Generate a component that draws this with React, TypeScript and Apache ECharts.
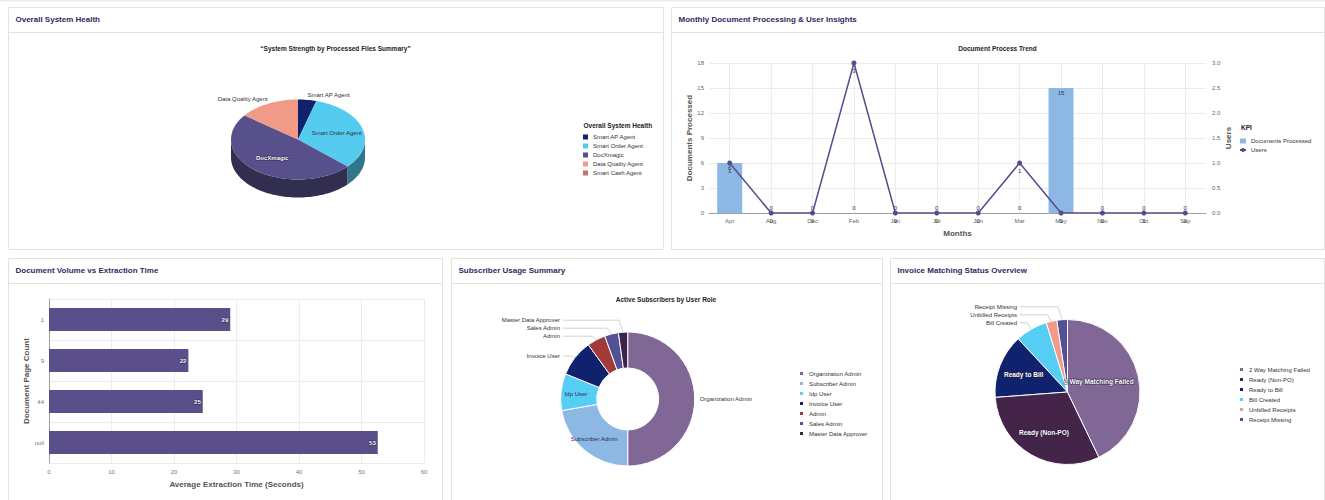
import React, { useEffect, useRef } from 'react';
import * as echarts from 'echarts';

// ---------------- Data ----------------
// Panel 1: Overall System Health (3D pie)
const healthNames = ['Smart AP Agent', 'Smart Order Agent', 'DocXmagic', 'Data Quality Agent', 'Smart Cash Agent'];
const healthValues = [3, 22, 33, 10, 0];

// Panel 2: Monthly Document Processing & User Insights
const months = ['Apr', 'Aug', 'Dec', 'Feb', 'Jan', 'Jul', 'Jun', 'Mar', 'May', 'Nov', 'Oct', 'Sep'];
const docsProcessed = [6, 0, 0, 0, 0, 0, 0, 0, 15, 0, 0, 0];
const usersCount = [1, 0, 0, 3, 0, 0, 0, 1, 0, 0, 0, 0];
const docsAxisMax = 18;
const docsAxisStep = 3;
const usersAxisMax = 3;
const usersAxisStep = 0.5;

// Panel 3: Document Volume vs Extraction Time
const pageCounts = ['1', '9', '44', 'null'];
const avgExtractionSeconds = [29, 22.3, 24.6, 52.6];
const extractionAxisMax = 60;
const extractionAxisStep = 10;

// Panel 4: Subscriber Usage Summary
const roleNames = ['Organization Admin', 'Subscriber Admin', 'Idp User', 'Invoice User', 'Admin', 'Sales Admin', 'Master Data Approver'];
const roleValues = [45, 20, 8, 8, 4, 3, 2];

// Panel 5: Invoice Matching Status Overview
const statusNames = ['2 Way Matching Failed', 'Ready (Non-PO)', 'Ready to Bill', 'Bill Created', 'Unbilled Receipts', 'Receipt Missing'];
const statusValues = [18, 13, 6, 3, 1, 1];

// ---------------- Styles / layout ----------------
const FONT = '"Liberation Sans", Arial, Helvetica, sans-serif';
const OUTLINE = 'rgba(35,25,55,0.75)';
const healthColors = ['#10226e', '#56cbf0', '#57508a', '#f19a8a', '#c27474'];
const roleColors = ['#806796', '#8db8e3', '#56cdf2', '#10226e', '#a33a3a', '#545096', '#3c2348'];
const statusColors = ['#806796', '#45244a', '#10226e', '#56cdf2', '#f19a8a', '#545096'];
const roleLabelModes = ['plain', 'inside', 'inside', 'line', 'line', 'line', 'line'];
const roleLineLengths = [0, 0, 0, 3, 12, 12, 12];
const statusLabelModes = ['inside', 'inside', 'inside', 'line', 'line', 'line'];
const statusLineLengths = [0, 0, 0, 13, 13, 13];

const ROLE_PIE = { center: [627.7, 399], r0: 31, r: 67, alignX: 560 };
const STATUS_PIE = { center: [1067.5, 392], r0: 0, r: 72.5, alignX: 1017 };

const panels = [
  { x: 8, y: 7, w: 655, h: 242, title: 'Overall System Health' },
  { x: 671, y: 7, w: 653, h: 242, title: 'Monthly Document Processing & User Insights' },
  { x: 8, y: 258, w: 434, h: 260, title: 'Document Volume vs Extraction Time' },
  { x: 451, y: 258, w: 431, h: 260, title: 'Subscriber Usage Summary' },
  { x: 890, y: 258, w: 434, h: 260, title: 'Invoice Matching Status Overview' },
];

const PIE3D = { cx: 298, cy: 139.5, rx: 67, ry: 40, depth: 18 };

const rad = (d: number) => (d * Math.PI) / 180;
const sum = (a: number[]) => a.reduce((s, v) => s + v, 0);

function shade(hex: string, f: number) {
  const n = parseInt(hex.slice(1), 16);
  const r = Math.round(((n >> 16) & 255) * f);
  const g = Math.round(((n >> 8) & 255) * f);
  const b = Math.round((n & 255) * f);
  return `rgb(${r},${g},${b})`;
}
function luminance(hex: string) {
  const n = parseInt(hex.slice(1), 16);
  return (0.299 * ((n >> 16) & 255) + 0.587 * ((n >> 8) & 255) + 0.114 * (n & 255)) / 255;
}

function render3DPie(params: any) {
  const i = params.dataIndex;
  const total = sum(healthValues);
  const v = healthValues[i];
  if (!v) return { type: 'group', children: [] };
  const before = sum(healthValues.slice(0, i));
  const a0 = 90 - (before / total) * 360;
  const a1 = a0 - (v / total) * 360;
  const { cx, cy, rx, ry, depth } = PIE3D;
  const color = healthColors[i];
  const pt = (t: number, dy = 0) => [cx + rx * Math.cos(rad(t)), cy - ry * Math.sin(rad(t)) + dy];
  const angles: number[] = [];
  const n = Math.max(4, Math.ceil((a0 - a1) / 2));
  for (let k = 0; k <= n; k++) angles.push(a0 - ((a0 - a1) * k) / n);
  for (let m = Math.ceil(a1 / 180); m * 180 < a0; m++) {
    const b = m * 180;
    if (b > a1 && b < a0) angles.push(b);
  }
  angles.sort((p, q) => q - p);
  const children: any[] = [];
  let run: number[] = [];
  const flush = () => {
    if (run.length > 1) {
      children.push({
        type: 'polygon',
        z2: 1,
        shape: { points: [...run.map((t) => pt(t)), ...run.slice().reverse().map((t) => pt(t, depth))] },
        style: { fill: shade(color, 0.58) },
      });
    }
    run = [];
  };
  for (const t of angles) {
    if (Math.sin(rad(t)) <= 1e-9) run.push(t);
    else flush();
  }
  flush();
  children.push({
    type: 'polygon',
    z2: 5,
    shape: { points: [[cx, cy], ...angles.map((t) => pt(t))] },
    style: { fill: color },
  });
  const mid = (a0 + a1) / 2;
  const c = Math.cos(rad(mid));
  const s = Math.sin(rad(mid));
  const share = v / total;
  let lx: number, ly: number, align: string, vAlign: string, fill: string, weight: string;
  let outline = false;
  if (share >= 0.25) {
    lx = cx + 0.6 * rx * c;
    ly = cy - 0.6 * ry * s;
    align = 'center';
    vAlign = 'middle';
    const dark = luminance(color) < 0.5;
    fill = dark ? '#ffffff' : '#333333';
    weight = dark ? 'bold' : 'normal';
    outline = dark;
  } else {
    lx = cx + (rx + 1) * c;
    ly = cy - (ry + 2) * s;
    align = c >= 0 ? 'left' : 'right';
    vAlign = 'bottom';
    fill = '#333333';
    weight = 'normal';
  }
  children.push({
    type: 'text',
    z2: 10,
    x: lx,
    y: ly,
    style: {
      text: healthNames[i],
      fill,
      fontSize: 6,
      fontWeight: weight,
      fontFamily: FONT,
      align,
      textAlign: align,
      verticalAlign: vAlign,
      textVerticalAlign: vAlign,
      stroke: outline ? OUTLINE : undefined,
      lineWidth: outline ? 1 : 0,
    },
  });
  return { type: 'group', children };
}

// Label placement for the flat pies: outside labels are right-aligned on one column with
// elbow connectors; inside labels sit at a fraction of the radius, kept within the slice's chord.
// `order` maps the series' data index back to the index in the value arrays.
function makeLabelLayout(values: number[], modes: string[], pie: any, insideFrac: number | null, order: number[]) {
  const total = sum(values);
  const [cx, cy] = pie.center;
  const r = pie.r;
  return (params: any) => {
    const i = order[params.dataIndex];
    const before = sum(values.slice(0, i));
    const mid = 90 - ((before + values[i] / 2) / total) * 360;
    const c = Math.cos(rad(mid));
    const s = Math.sin(rad(mid));
    const lr = params.labelRect;
    if (modes[i] === 'line') {
      const y = lr.y + lr.height / 2;
      const ex = cx + r * c;
      const ey = cy - r * s;
      return {
        x: pie.alignX,
        y,
        align: 'right',
        verticalAlign: 'middle',
        labelLinePoints: [[ex, ey], [ex - 4, y], [pie.alignX + 3, y]],
      };
    }
    if (modes[i] === 'inside' && insideFrac != null) {
      let x = cx + insideFrac * r * c;
      const y = cy - insideFrac * r * s;
      const half = Math.sqrt(Math.max(0, r * r - (y - cy) * (y - cy))) - 5;
      const hw = lr.width / 2;
      x = Math.min(x, cx + half - hw);
      x = Math.max(x, cx - half + hw);
      return { x, y, align: 'center', verticalAlign: 'middle' };
    }
    return {};
  };
}

function buildOption() {
  const graphics: any[] = [];
  graphics.push({ type: 'rect', silent: true, z: -5, shape: { x: 0, y: 0, width: 1325, height: 1.5 }, style: { fill: '#ebebeb' } });
  panels.forEach((p) => {
    graphics.push({
      type: 'rect', silent: true, z: -5,
      shape: { x: p.x + 0.5, y: p.y + 0.5, width: p.w, height: p.h },
      style: { fill: '#ffffff', stroke: '#e2e2e2', lineWidth: 1 },
    });
    graphics.push({
      type: 'line', silent: true, z: -4,
      shape: { x1: p.x + 0.5, y1: p.y + 25.5, x2: p.x + p.w + 0.5, y2: p.y + 25.5 },
      style: { stroke: '#e2e2e2', lineWidth: 1 },
    });
    graphics.push({
      type: 'text', silent: true, z: 10, x: p.x + 7.5, y: p.y + 12.5,
      style: {
        text: p.title, fill: '#2e2b5f', fontSize: 8, fontWeight: 'bold', fontFamily: FONT,
        align: 'left', textAlign: 'left', verticalAlign: 'middle', textVerticalAlign: 'middle',
      },
    });
  });
  const centeredText = (text: string, x: number, y: number, size: number, align = 'center') => ({
    type: 'text', silent: true, z: 10, x, y,
    style: {
      text, fill: '#222222', fontSize: size, fontWeight: 'bold', fontFamily: FONT,
      align, textAlign: align, verticalAlign: 'middle', textVerticalAlign: 'middle',
    },
  });
  graphics.push(centeredText('\u201CSystem Strength by Processed Files Summary\u201D', 335.5, 48, 6.5));
  graphics.push(centeredText('Document Process Trend', 997.5, 48, 6.5));
  graphics.push(centeredText('Active Subscribers by User Role', 666, 299, 6.5));
  graphics.push(centeredText('Overall System Health', 583.5, 125, 6.5, 'left'));
  graphics.push(centeredText('KPI', 1241, 127, 6.5, 'left'));

  const legendBase = {
    orient: 'vertical', itemWidth: 5, itemHeight: 5, itemGap: 3, padding: 0, selectedMode: false,
    textStyle: { fontSize: 6, color: '#333', fontFamily: FONT },
  };
  const axisName = { fontSize: 8, fontWeight: 'bold', color: '#555', fontFamily: FONT };
  const gridLine = { color: '#ececec', width: 1 };

  const pieData = (names: string[], values: number[], colors: string[], modes: string[], lens: number[], insideColor: string, insideBold: boolean) =>
    names.map((name, i) => {
      const d: any = { name, value: values[i], itemStyle: { color: colors[i] } };
      if (modes[i] === 'inside') {
        d.label = insideBold
          ? { position: 'inside', color: insideColor, fontWeight: 'bold', fontSize: 6.5, textBorderColor: OUTLINE, textBorderWidth: 1.2 }
          : { position: 'inside', color: insideColor, fontWeight: 'normal', fontSize: 6 };
        d.labelLine = { show: false };
      } else if (modes[i] === 'plain') {
        d.labelLine = { show: false, length: 0, length2: 0 };
      } else {
        d.labelLine = { length: lens[i], length2: 6 };
      }
      return d;
    });

  const roleOrder = roleNames.map((_, i) => i);
  // Invoice pie is fed in reverse and drawn counter-clockwise (same geometry), so the big
  // slices and their labels are painted last and stay on top of the thin slices.
  const statusOrder = statusNames.map((_, i) => statusNames.length - 1 - i);
  const statusData = pieData(statusNames, statusValues, statusColors, statusLabelModes, statusLineLengths, '#ffffff', true);

  return {
    animation: false,
    textStyle: { fontFamily: FONT },
    graphic: { elements: graphics },
    legend: [
      { ...legendBase, icon: 'rect', left: 583, top: 134, data: healthNames },
      { ...legendBase, itemWidth: 6, left: 1239, top: 138, data: [{ name: 'Documents Processed', icon: 'rect' }, { name: 'Users' }] },
      { ...legendBase, icon: 'rect', left: 798, top: 370, data: roleNames },
      { ...legendBase, icon: 'rect', left: 1238, top: 366, data: statusNames },
    ],
    grid: [
      { left: 709, top: 63, width: 497, height: 150 },
      { left: 49, top: 299, width: 375, height: 164 },
    ],
    xAxis: [
      {
        gridIndex: 0, type: 'category', data: months,
        axisTick: { show: false },
        axisLine: { lineStyle: { color: '#a0a0a0' } },
        axisLabel: { fontSize: 6, color: '#666666', interval: 0, margin: 5 },
        splitLine: { show: true, alignWithLabel: true, lineStyle: gridLine },
        name: 'Months', nameLocation: 'middle', nameGap: 16, nameTextStyle: axisName,
      },
      {
        gridIndex: 1, type: 'value', min: 0, max: extractionAxisMax, interval: extractionAxisStep,
        axisLine: { show: false }, axisTick: { show: false },
        axisLabel: { fontSize: 6, color: '#777777', margin: 6 },
        splitLine: { show: true, lineStyle: gridLine },
        name: 'Average Extraction Time (Seconds)', nameLocation: 'middle', nameGap: 17, nameTextStyle: axisName,
      },
    ],
    yAxis: [
      {
        gridIndex: 0, type: 'value', min: 0, max: docsAxisMax, interval: docsAxisStep,
        axisLine: { show: false }, axisTick: { show: false },
        axisLabel: { fontSize: 6, color: '#666666', margin: 5 },
        splitLine: { show: true, lineStyle: gridLine },
        name: 'Documents Processed', nameLocation: 'middle', nameGap: 15, nameTextStyle: axisName,
      },
      {
        gridIndex: 0, type: 'value', position: 'right', min: 0, max: usersAxisMax, interval: usersAxisStep,
        axisLine: { show: false }, axisTick: { show: false }, splitLine: { show: false },
        axisLabel: { fontSize: 6, color: '#666666', margin: 6, formatter: (v: number) => v.toFixed(1) },
        name: 'Users', nameLocation: 'middle', nameGap: 16, nameTextStyle: axisName,
      },
      {
        gridIndex: 1, type: 'category', data: pageCounts, inverse: true,
        axisLine: { show: true, lineStyle: { color: '#a0a0a0' } }, axisTick: { show: false },
        axisLabel: { fontSize: 6, color: '#777777', margin: 5 },
        splitLine: { show: true, lineStyle: gridLine },
        name: 'Document Page Count', nameLocation: 'middle', nameGap: 17, nameTextStyle: axisName,
      },
    ],
    series: [
      {
        type: 'custom', name: '3D Health', coordinateSystem: 'none', silent: true,
        data: healthValues, renderItem: render3DPie,
      },
      {
        type: 'pie', name: 'Overall System Health', radius: [0, 0], center: [PIE3D.cx, PIE3D.cy], silent: true,
        label: { show: false }, labelLine: { show: false }, emphasis: { disabled: true },
        data: healthNames.map((name, i) => ({ name, value: healthValues[i], itemStyle: { color: healthColors[i] } })),
      },
      {
        type: 'bar', name: 'Documents Processed', xAxisIndex: 0, yAxisIndex: 0, barWidth: 25,
        itemStyle: { color: '#8db8e3' },
        label: { show: true, fontSize: 6, color: '#333', distance: 2 },
        data: docsProcessed.map((v) => ({ value: v, label: { position: v === 0 ? 'top' : 'insideTop' } })),
      },
      {
        type: 'line', name: 'Users', xAxisIndex: 0, yAxisIndex: 1, data: usersCount,
        symbol: 'circle', symbolSize: 5,
        itemStyle: { color: '#574b8c' }, lineStyle: { color: '#574b8c', width: 1.5 },
        label: { show: true, position: 'bottom', distance: 2, fontSize: 6, color: '#333' },
      },
      {
        type: 'bar', name: 'Average Extraction Time', xAxisIndex: 1, yAxisIndex: 2, barWidth: 23,
        data: avgExtractionSeconds, itemStyle: { color: '#5a4f8a' },
        label: {
          show: true, position: 'insideRight', distance: 2, fontSize: 6, fontWeight: 'bold', color: '#fff',
          textBorderColor: OUTLINE, textBorderWidth: 1,
          formatter: (p: any) => String(Math.round(p.value)),
        },
      },
      {
        type: 'pie', name: 'Active Subscribers', center: ROLE_PIE.center, radius: [ROLE_PIE.r0, ROLE_PIE.r],
        startAngle: 90, clockwise: true, avoidLabelOverlap: true, silent: true,
        itemStyle: { borderColor: '#fff', borderWidth: 1 },
        label: { show: true, position: 'outside', fontSize: 6, color: '#333', distanceToLabelLine: 5 },
        labelLine: { show: true, length: 3, length2: 6, lineStyle: { color: '#c8c8c8', width: 0.8 } },
        labelLayout: makeLabelLayout(roleValues, roleLabelModes, ROLE_PIE, null, roleOrder),
        emphasis: { disabled: true },
        data: pieData(roleNames, roleValues, roleColors, roleLabelModes, roleLineLengths, '#2e2b5f', false),
      },
      {
        type: 'pie', name: 'Invoice Matching', center: STATUS_PIE.center, radius: [STATUS_PIE.r0, STATUS_PIE.r],
        startAngle: 90, clockwise: false, avoidLabelOverlap: true, silent: true,
        itemStyle: { borderColor: '#fff', borderWidth: 1 },
        label: { show: true, position: 'outside', fontSize: 6, color: '#333', distanceToLabelLine: 5 },
        labelLine: { show: true, length: 13, length2: 6, lineStyle: { color: '#c8c8c8', width: 0.8 } },
        labelLayout: makeLabelLayout(statusValues, statusLabelModes, STATUS_PIE, 0.65, statusOrder),
        emphasis: { disabled: true },
        data: statusOrder.map((i) => statusData[i]),
      },
    ],
  };
}

export default function App() {
  const ref = useRef<HTMLDivElement>(null);
  useEffect(() => {
    if (!ref.current) return;
    const chart = echarts.init(ref.current, null, { renderer: 'svg' });
    chart.setOption(buildOption() as any);
    return () => chart.dispose();
  }, []);
  return (
    <div
      ref={ref}
      style={{ position: 'fixed', left: 0, top: 0, width: 1325, height: 500, background: '#ffffff' }}
    />
  );
}
